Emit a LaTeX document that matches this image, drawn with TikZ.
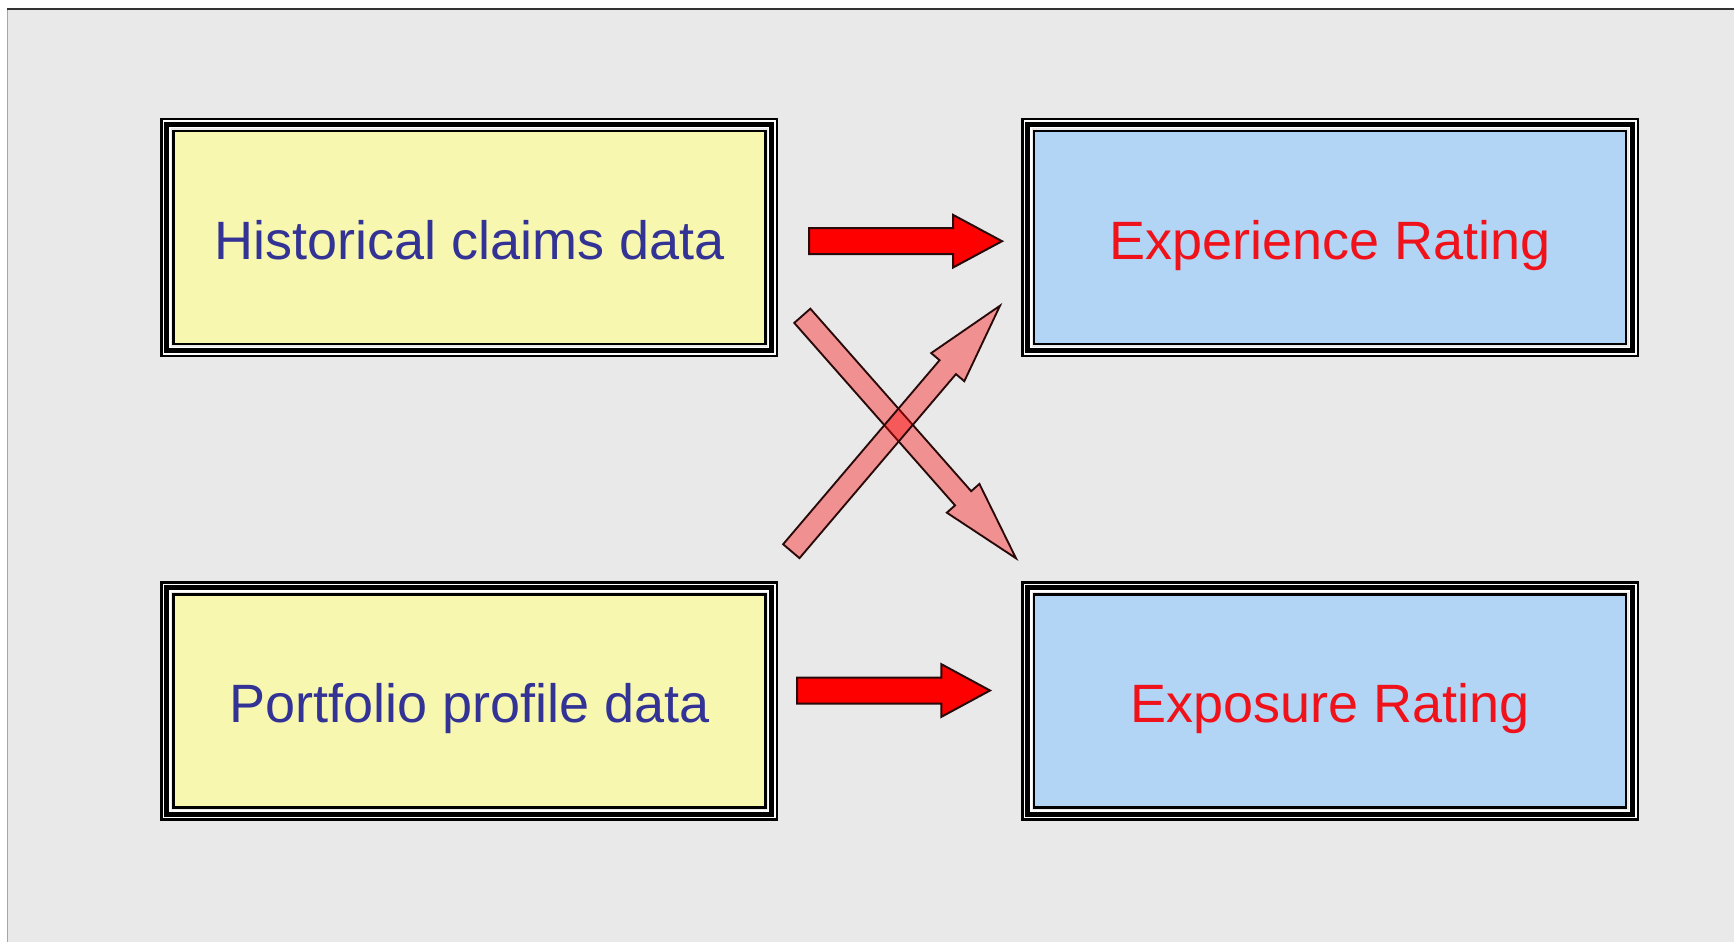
\documentclass[tikz,border=0pt]{standalone}
\usepackage{fontspec}
\setmainfont{Liberation Sans}
\usetikzlibrary{calc}
\definecolor{bggray}{RGB}{233,233,233}
\definecolor{boxyellow}{RGB}{247,247,176}
\definecolor{boxblue}{RGB}{178,213,246}
\definecolor{txtblue}{RGB}{51,51,150}
\definecolor{txtred}{RGB}{240,18,26}
\definecolor{arrowline}{RGB}{40,10,10}
\tikzset{
  databox/.style={draw=black, line width=1.875pt, fill=boxyellow, inner sep=0pt,
    minimum width=444pt, minimum height=160.1pt, text height=32.8pt, text depth=0pt,
    font=\fontsize{40.5}{48}\selectfont, text=txtblue},
  ratebox/.style={databox, fill=boxblue, text=txtred},
  solidarrow/.style={fill=red, draw=arrowline, line width=1.5pt, line join=miter},
  softarrow/.style={fill=red, fill opacity=0.38, draw=arrowline, draw opacity=1, line width=1.4pt, line join=miter}
}
\newcommand\tripleframe[1]{%
  \draw[white,line width=6pt] ([shift={(-5.25,-5.25)}]#1.north west) rectangle ([shift={(5.25,5.25)}]#1.south east);
  \draw[black,line width=3.75pt] ([shift={(-5.25,-5.25)}]#1.north west) rectangle ([shift={(5.25,5.25)}]#1.south east);
  \draw[black,line width=1.875pt] ([shift={(-10.5,-10.5)}]#1.north west) rectangle ([shift={(10.5,10.5)}]#1.south east);}
% #1 style, #2 tail, #3 tip, #4 half shaft, #5 half head, #6 head length
\newcommand\blockarrow[6]{%
  \coordinate (#3-j) at ($(#3)!#6!(#2)$);
  \draw[#1] ($(#2)!#4!90:(#3)$) -- ($(#3-j)!#4!90:(#3)$) -- ($(#3-j)!#5!90:(#3)$)
    -- (#3) -- ($(#3-j)!#5!-90:(#3)$) -- ($(#3-j)!#4!-90:(#3)$) -- ($(#2)!#4!-90:(#3)$) -- cycle;}
\begin{document}
\begin{tikzpicture}[x=0.75pt,y=-0.75pt]
\useasboundingbox (0,0) rectangle (1734,942);
\fill[white] (0,0) rectangle (1734,942);
\fill[bggray] (7.5,9.5) rectangle (1734,942);
\draw[black!80,line width=1.5pt] (7,9.5) -- (1734,9.5);
\draw[black!35,line width=0.9pt] (7.5,10) -- (7.5,942);

\node[databox] (hist) at (469.25,237.5) {Historical claims data};
\node[ratebox] (exper) at (1330,237.5) {Experience Rating};
\node[databox] (port) at (469.25,701) {Portfolio profile data};
\node[ratebox] (expos) at (1330,701) {Exposure Rating};
\tripleframe{hist}
\tripleframe{exper}
\tripleframe{port}
\tripleframe{expos}

\coordinate (a1t) at (809,241.2);
\coordinate (a1h) at (1002,241.2);
\coordinate (a2t) at (797,690.5);
\coordinate (a2h) at (990,690.5);
\coordinate (a3t) at (802.3,315.8);
\coordinate (a3h) at (1016,558.3);
\coordinate (a4t) at (791.3,551.2);
\coordinate (a4h) at (1000,305.7);

\blockarrow{solidarrow}{a1t}{a1h}{9.75pt}{19.75pt}{36.75pt}
\blockarrow{solidarrow}{a2t}{a2h}{9.75pt}{19.75pt}{36.5pt}
\blockarrow{softarrow}{a3t}{a3h}{8.06pt}{16.3pt}{60pt}
\blockarrow{softarrow}{a4t}{a4h}{8.06pt}{16.3pt}{60.5pt}
\end{tikzpicture}
\end{document}
